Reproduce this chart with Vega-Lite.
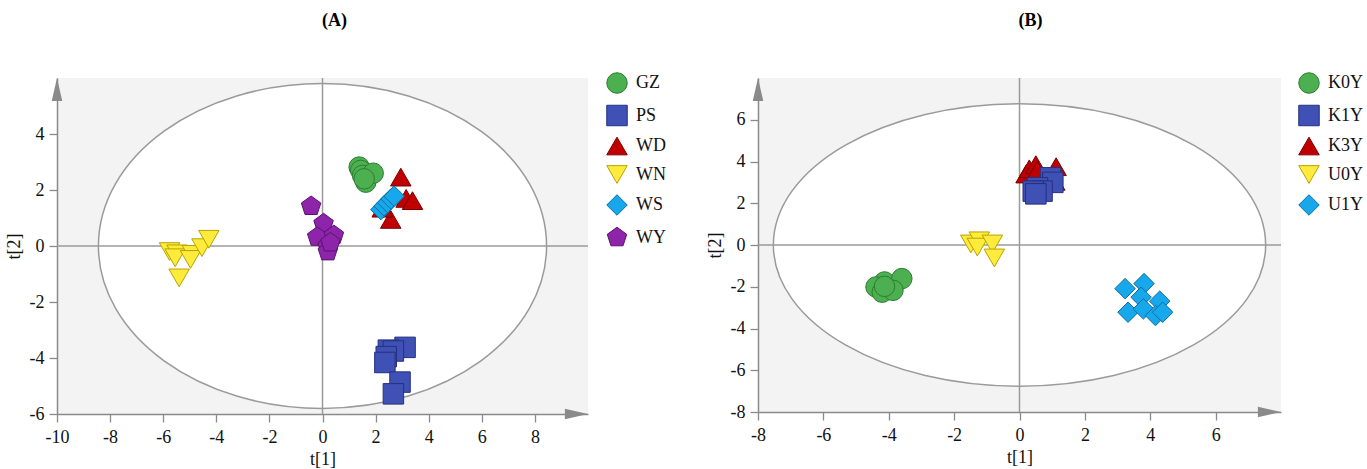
{
  "$schema": "https://vega.github.io/schema/vega-lite/v6.json",
  "padding": {"left": 5, "top": 12, "right": 0, "bottom": 0},
  "background": "white",
  "spacing": 40,
  "config": {
    "font": "Liberation Serif",
    "locale": {"number": {"decimal": ".", "thousands": ",", "grouping": [3], "currency": ["$", ""], "minus": "-"}},
    "view": {"fill": "#f3f3f3", "stroke": null},
    "axis": {"grid": false, "labelFlush": false, "domainColor": "#8a8a8a", "domainWidth": 1.5, "tickColor": "#8a8a8a", "tickWidth": 1.3, "tickSize": {"condition": {"test": "datum.value % 2 == 0", "value": 8}, "value": 4}, "labelFont": "Liberation Serif", "labelFontSize": 18, "labelColor": "#111", "labelPadding": 6, "labelOverlap": false, "titleFont": "Liberation Serif", "titleFontSize": 18, "titleFontWeight": "normal", "titleColor": "#111", "titlePadding": 4},
    "axisY": {"labelPadding": 5, "titlePadding": 6},
    "title": {"font": "Liberation Serif", "fontSize": 18, "fontWeight": "bold", "color": "#000", "anchor": "middle", "frame": "group"},
    "legend": {"labelFont": "Liberation Serif", "labelFontSize": 18, "labelColor": "#111", "symbolSize": 420, "symbolStrokeWidth": 1, "symbolOpacity": 1, "rowPadding": 6.5, "labelOffset": 8, "padding": 0}
  },
  "datasets": {
    "ptsA": [
      {"g": "GZ", "x": 1.38, "y": 2.82}, {"g": "GZ", "x": 1.44, "y": 2.70}, {"g": "GZ", "x": 1.51, "y": 2.52}, {"g": "GZ", "x": 1.63, "y": 2.28}, {"g": "GZ", "x": 1.91, "y": 2.60}, {"g": "GZ", "x": 1.57, "y": 2.40},
      {"g": "PS", "x": 3.11, "y": -3.62}, {"g": "PS", "x": 2.48, "y": -3.72}, {"g": "PS", "x": 2.67, "y": -3.75}, {"g": "PS", "x": 2.40, "y": -3.95}, {"g": "PS", "x": 2.35, "y": -4.16}, {"g": "PS", "x": 2.92, "y": -4.86}, {"g": "PS", "x": 2.67, "y": -5.28},
      {"g": "WD", "x": 2.95, "y": 2.46}, {"g": "WD", "x": 3.15, "y": 1.70}, {"g": "WD", "x": 3.39, "y": 1.62}, {"g": "WD", "x": 2.57, "y": 0.95}, {"g": "WD", "x": 2.25, "y": 1.35},
      {"g": "WN", "x": -5.76, "y": -0.20}, {"g": "WN", "x": -5.48, "y": -0.28}, {"g": "WN", "x": -5.55, "y": -0.42}, {"g": "WN", "x": -4.90, "y": -0.30}, {"g": "WN", "x": -4.97, "y": -0.48}, {"g": "WN", "x": -4.54, "y": -0.06}, {"g": "WN", "x": -4.28, "y": 0.24}, {"g": "WN", "x": -5.40, "y": -1.14},
      {"g": "WS", "x": 2.20, "y": 1.30}, {"g": "WS", "x": 2.32, "y": 1.43}, {"g": "WS", "x": 2.45, "y": 1.55}, {"g": "WS", "x": 2.58, "y": 1.68}, {"g": "WS", "x": 2.70, "y": 1.78},
      {"g": "WY", "x": -0.43, "y": 1.42}, {"g": "WY", "x": 0.04, "y": 0.80}, {"g": "WY", "x": -0.20, "y": 0.32}, {"g": "WY", "x": 0.43, "y": 0.38}, {"g": "WY", "x": 0.19, "y": 0.00}, {"g": "WY", "x": 0.20, "y": -0.20}, {"g": "WY", "x": 0.30, "y": 0.12}
    ],
    "ptsB": [
      {"g": "K0Y", "x": -4.13, "y": -1.77}, {"g": "K0Y", "x": -3.60, "y": -1.61}, {"g": "K0Y", "x": -4.39, "y": -2.01}, {"g": "K0Y", "x": -4.20, "y": -2.26}, {"g": "K0Y", "x": -3.87, "y": -2.17}, {"g": "K0Y", "x": -4.13, "y": -1.98},
      {"g": "K3Y", "x": 0.20, "y": 3.40}, {"g": "K3Y", "x": 0.30, "y": 3.65}, {"g": "K3Y", "x": 0.50, "y": 3.85}, {"g": "K3Y", "x": 0.55, "y": 3.60}, {"g": "K3Y", "x": 1.12, "y": 3.75}, {"g": "K3Y", "x": 1.08, "y": 3.05},
      {"g": "K1Y", "x": 0.95, "y": 3.22}, {"g": "K1Y", "x": 1.02, "y": 3.00}, {"g": "K1Y", "x": 0.55, "y": 2.74}, {"g": "K1Y", "x": 0.69, "y": 2.58}, {"g": "K1Y", "x": 0.42, "y": 2.58}, {"g": "K1Y", "x": 0.50, "y": 2.45},
      {"g": "U0Y", "x": -1.49, "y": 0.05}, {"g": "U0Y", "x": -1.23, "y": 0.20}, {"g": "U0Y", "x": -1.29, "y": -0.10}, {"g": "U0Y", "x": -0.83, "y": 0.05}, {"g": "U0Y", "x": -0.77, "y": -0.62},
      {"g": "U1Y", "x": 3.23, "y": -2.09}, {"g": "U1Y", "x": 3.81, "y": -1.85}, {"g": "U1Y", "x": 3.72, "y": -2.50}, {"g": "U1Y", "x": 4.29, "y": -2.69}, {"g": "U1Y", "x": 3.32, "y": -3.22}, {"g": "U1Y", "x": 3.79, "y": -3.06}, {"g": "U1Y", "x": 4.16, "y": -3.38}, {"g": "U1Y", "x": 4.38, "y": -3.22}
    ],
    "ellA": [
      {"i": 0, "x": 8.44, "y": 0}, {"i": 1, "x": 7.798, "y": 2.22}, {"i": 2, "x": 5.968, "y": 4.101}, {"i": 3, "x": 3.23, "y": 5.359},
      {"i": 4, "x": 0, "y": 5.8}, {"i": 5, "x": -3.23, "y": 5.359}, {"i": 6, "x": -5.968, "y": 4.101}, {"i": 7, "x": -7.798, "y": 2.22},
      {"i": 8, "x": -8.44, "y": 0}, {"i": 9, "x": -7.798, "y": -2.22}, {"i": 10, "x": -5.968, "y": -4.101}, {"i": 11, "x": -3.23, "y": -5.359},
      {"i": 12, "x": 0, "y": -5.8}, {"i": 13, "x": 3.23, "y": -5.359}, {"i": 14, "x": 5.968, "y": -4.101}, {"i": 15, "x": 7.798, "y": -2.22}
    ],
    "ellB": [
      {"i": 0, "x": 7.53, "y": 0}, {"i": 1, "x": 6.957, "y": 2.591}, {"i": 2, "x": 5.325, "y": 4.787}, {"i": 3, "x": 2.882, "y": 6.255},
      {"i": 4, "x": 0, "y": 6.77}, {"i": 5, "x": -2.882, "y": 6.255}, {"i": 6, "x": -5.325, "y": 4.787}, {"i": 7, "x": -6.957, "y": 2.591},
      {"i": 8, "x": -7.53, "y": 0}, {"i": 9, "x": -6.957, "y": -2.591}, {"i": 10, "x": -5.325, "y": -4.787}, {"i": 11, "x": -2.882, "y": -6.255},
      {"i": 12, "x": 0, "y": -6.77}, {"i": 13, "x": 2.882, "y": -6.255}, {"i": 14, "x": 5.325, "y": -4.787}, {"i": 15, "x": 6.957, "y": -2.591}
    ]
  },
  "hconcat": [
    {
      "title": {"text": "(A)", "dx": 12, "offset": 42},
      "width": 531,
      "height": 336,
      "layer": [
        {
          "data": {"name": "ellA"},
          "mark": {"type": "line", "interpolate": "cardinal-closed", "fill": "white", "stroke": "#9a9a9a", "strokeWidth": 1.5},
          "encoding": {
            "x": {"field": "x", "type": "quantitative", "scale": {"domain": [-10, 10], "nice": false, "zero": false}, "axis": {"title": "t[1]", "labelFont": "Liberation Serif", "labelFontSize": 18, "values": [-10, -9, -8, -7, -6, -5, -4, -3, -2, -1, 0, 1, 2, 3, 4, 5, 6, 7, 8, 9], "labelExpr": "datum.value % 2 == 0 ? datum.label : ''"}},
            "y": {"field": "y", "type": "quantitative", "scale": {"domain": [-6, 6], "nice": false, "zero": false}, "axis": {"title": "t[2]", "labelFont": "Liberation Serif", "labelFontSize": 18, "values": [-6, -5, -4, -3, -2, -1, 0, 1, 2, 3, 4, 5], "labelExpr": "datum.value % 2 == 0 ? datum.label : ''"}},
            "order": {"field": "i", "type": "quantitative"}
          }
        },
        {
          "data": {"values": [{"x": 0}]},
          "mark": {"type": "rule", "color": "#9a9a9a", "strokeWidth": 1.5},
          "encoding": {"x": {"field": "x", "type": "quantitative", "scale": {"domain": [-10, 10], "nice": false, "zero": false}}}
        },
        {
          "data": {"values": [{"y": 0}]},
          "mark": {"type": "rule", "color": "#9a9a9a", "strokeWidth": 1.5},
          "encoding": {"y": {"field": "y", "type": "quantitative", "scale": {"domain": [-6, 6], "nice": false, "zero": false}}}
        },
        {
          "data": {"name": "ptsA"},
          "mark": {"type": "point", "filled": true, "opacity": 1, "size": 420, "strokeWidth": 1},
          "encoding": {
            "x": {"field": "x", "type": "quantitative", "scale": {"domain": [-10, 10], "nice": false, "zero": false}},
            "y": {"field": "y", "type": "quantitative", "scale": {"domain": [-6, 6], "nice": false, "zero": false}},
            "color": {"field": "g", "type": "nominal", "title": null, "scale": {"domain": ["GZ", "PS", "WD", "WN", "WS", "WY"], "range": ["#4caf50", "#3f51b5", "#c00000", "#ffeb3b", "#16a8ea", "#8e24aa"]}, "legend": {"orient": "none", "legendX": 549, "legendY": -6}},
            "stroke": {"field": "g", "type": "nominal", "title": null, "scale": {"domain": ["GZ", "PS", "WD", "WN", "WS", "WY"], "range": ["#2e7d32", "#26307f", "#7a0000", "#b8a300", "#0b6fa3", "#5a1370"]}},
            "shape": {"field": "g", "type": "nominal", "title": null, "scale": {"domain": ["GZ", "PS", "WD", "WN", "WS", "WY"], "range": ["circle", "square", "triangle-up", "triangle-down", "diamond", "M0,-1L0.951,-0.309L0.588,0.809L-0.588,0.809L-0.951,-0.309Z"]}}
          }
        },
        {
          "data": {"values": [{"x": -10, "y": 6}]},
          "mark": {"type": "point", "filled": true, "opacity": 1, "size": 484, "color": "#8a8a8a", "strokeWidth": 0, "shape": "M0,0L0.48,2.1L-0.48,2.1Z"},
          "encoding": {
            "x": {"field": "x", "type": "quantitative", "scale": {"domain": [-10, 10], "nice": false, "zero": false}},
            "y": {"field": "y", "type": "quantitative", "scale": {"domain": [-6, 6], "nice": false, "zero": false}}
          }
        },
        {
          "data": {"values": [{"x": 10, "y": -6}]},
          "mark": {"type": "point", "filled": true, "opacity": 1, "size": 484, "color": "#8a8a8a", "strokeWidth": 0, "shape": "M0,0L-2.1,-0.48L-2.1,0.48Z"},
          "encoding": {
            "x": {"field": "x", "type": "quantitative", "scale": {"domain": [-10, 10], "nice": false, "zero": false}},
            "y": {"field": "y", "type": "quantitative", "scale": {"domain": [-6, 6], "nice": false, "zero": false}}
          }
        }
      ]
    },
    {
      "title": {"text": "(B)", "dx": 11, "offset": 42},
      "width": 523,
      "height": 334,
      "layer": [
        {
          "data": {"name": "ellB"},
          "mark": {"type": "line", "interpolate": "cardinal-closed", "fill": "white", "stroke": "#9a9a9a", "strokeWidth": 1.5},
          "encoding": {
            "x": {"field": "x", "type": "quantitative", "scale": {"domain": [-8, 8], "nice": false, "zero": false}, "axis": {"title": "t[1]", "labelFont": "Liberation Serif", "labelFontSize": 18, "values": [-8, -7, -6, -5, -4, -3, -2, -1, 0, 1, 2, 3, 4, 5, 6, 7], "labelExpr": "datum.value % 2 == 0 ? datum.label : ''"}},
            "y": {"field": "y", "type": "quantitative", "scale": {"domain": [-8, 8], "nice": false, "zero": false}, "axis": {"title": "t[2]", "labelFont": "Liberation Serif", "labelFontSize": 18, "values": [-8, -7, -6, -5, -4, -3, -2, -1, 0, 1, 2, 3, 4, 5, 6, 7], "labelExpr": "datum.value % 2 == 0 ? datum.label : ''"}},
            "order": {"field": "i", "type": "quantitative"}
          }
        },
        {
          "data": {"values": [{"x": 0}]},
          "mark": {"type": "rule", "color": "#9a9a9a", "strokeWidth": 1.5},
          "encoding": {"x": {"field": "x", "type": "quantitative", "scale": {"domain": [-8, 8], "nice": false, "zero": false}}}
        },
        {
          "data": {"values": [{"y": 0}]},
          "mark": {"type": "rule", "color": "#9a9a9a", "strokeWidth": 1.5},
          "encoding": {"y": {"field": "y", "type": "quantitative", "scale": {"domain": [-8, 8], "nice": false, "zero": false}}}
        },
        {
          "data": {"name": "ptsB"},
          "mark": {"type": "point", "filled": true, "opacity": 1, "size": 420, "strokeWidth": 1},
          "encoding": {
            "x": {"field": "x", "type": "quantitative", "scale": {"domain": [-8, 8], "nice": false, "zero": false}},
            "y": {"field": "y", "type": "quantitative", "scale": {"domain": [-8, 8], "nice": false, "zero": false}},
            "color": {"field": "g", "type": "nominal", "title": null, "scale": {"domain": ["K0Y", "K1Y", "K3Y", "U0Y", "U1Y"], "range": ["#4caf50", "#3f51b5", "#c00000", "#ffeb3b", "#16a8ea"]}, "legend": {"orient": "none", "legendX": 540, "legendY": -6}},
            "stroke": {"field": "g", "type": "nominal", "title": null, "scale": {"domain": ["K0Y", "K1Y", "K3Y", "U0Y", "U1Y"], "range": ["#2e7d32", "#26307f", "#7a0000", "#b8a300", "#0b6fa3"]}},
            "shape": {"field": "g", "type": "nominal", "title": null, "scale": {"domain": ["K0Y", "K1Y", "K3Y", "U0Y", "U1Y"], "range": ["circle", "square", "triangle-up", "triangle-down", "diamond"]}}
          }
        },
        {
          "data": {"values": [{"x": -8, "y": 8}]},
          "mark": {"type": "point", "filled": true, "opacity": 1, "size": 484, "color": "#8a8a8a", "strokeWidth": 0, "shape": "M0,0L0.48,2.1L-0.48,2.1Z"},
          "encoding": {
            "x": {"field": "x", "type": "quantitative", "scale": {"domain": [-8, 8], "nice": false, "zero": false}},
            "y": {"field": "y", "type": "quantitative", "scale": {"domain": [-8, 8], "nice": false, "zero": false}}
          }
        },
        {
          "data": {"values": [{"x": 8, "y": -8}]},
          "mark": {"type": "point", "filled": true, "opacity": 1, "size": 484, "color": "#8a8a8a", "strokeWidth": 0, "shape": "M0,0L-2.1,-0.48L-2.1,0.48Z"},
          "encoding": {
            "x": {"field": "x", "type": "quantitative", "scale": {"domain": [-8, 8], "nice": false, "zero": false}},
            "y": {"field": "y", "type": "quantitative", "scale": {"domain": [-8, 8], "nice": false, "zero": false}}
          }
        }
      ]
    }
  ],
  "resolve": {
    "scale": {"x": "independent", "y": "independent", "color": "independent", "shape": "independent", "stroke": "independent"},
    "legend": {"color": "independent", "shape": "independent", "stroke": "independent"}
  }
}
